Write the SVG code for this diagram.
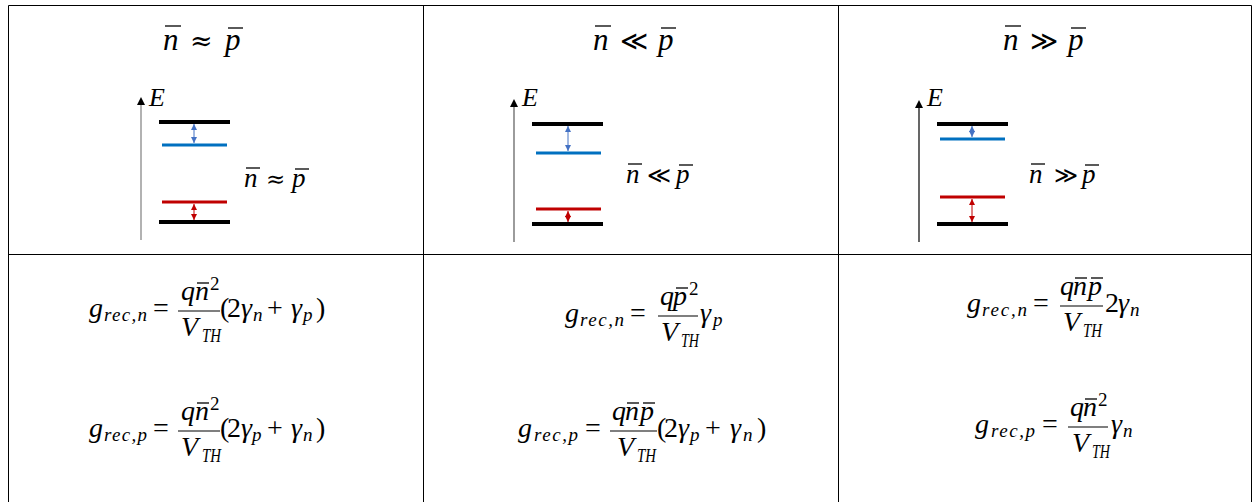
<svg xmlns="http://www.w3.org/2000/svg" width="1253" height="502" viewBox="0 0 1253 502">
<style>
.grid{stroke:#000;stroke-width:1;fill:none}
.m{font-family:"Liberation Serif","DejaVu Serif",serif;font-style:italic;font-size:28px;fill:#000}
.u{font-family:"Liberation Serif","DejaVu Serif",serif;font-style:normal;font-size:28px;fill:#000}
.r{font-family:"DejaVu Serif","Liberation Serif",serif;font-style:normal;fill:#000}
.s{font-size:19px}
.h{font-size:31px}
.l{font-size:27px}
.e{font-size:26px}
.bar{stroke:#000;stroke-width:1.3}
.fb{stroke:#000;stroke-width:1.2}
.kb{stroke:#000;stroke-width:4}
.bl{stroke:#0070C0;stroke-width:3}
.rd{stroke:#C00000;stroke-width:3}
.ba{stroke:#4472C4;stroke-width:1}
.ra{stroke:#C00000;stroke-width:1}
</style>
<defs>
<marker id="ah" markerUnits="userSpaceOnUse" markerWidth="8" markerHeight="9" viewBox="0 0 8 9" refX="0" refY="4.5" orient="auto"><path d="M0,0.5 L8,4.5 L0,8.5 z" fill="#000"/></marker>
<marker id="sb" markerUnits="userSpaceOnUse" markerWidth="6" markerHeight="6" viewBox="0 0 6 6" refX="6" refY="3" orient="auto-start-reverse"><path d="M0,0 L6,3 L0,6 z" fill="#4472C4"/></marker>
<marker id="sr" markerUnits="userSpaceOnUse" markerWidth="6" markerHeight="6" viewBox="0 0 6 6" refX="6" refY="3" orient="auto-start-reverse"><path d="M0,0 L6,3 L0,6 z" fill="#C00000"/></marker>
</defs>
<rect width="1253" height="502" fill="#fff"/>
<g id="table">
<path class="grid" d="M8.5,502 V5.5 H1251.5 V502 M423.5,5.5 V502 M838.5,5.5 V502 M8.5,254.5 H1251.5"/>
</g>

<g id="cell1-top">
<text class="m h" x="163" y="50">n</text><line class="bar" x1="165" y1="26" x2="181" y2="26"/>
<text class="r" x="190" y="50" font-size="27">≈</text>
<text class="m h" x="225" y="50">p</text><line class="bar" x1="228" y1="28" x2="243" y2="28"/>
<line x1="141" y1="240" x2="141" y2="105" stroke="#7f7f7f" stroke-width="1.2" marker-end="url(#ah)"/>
<text class="m e" x="149" y="106">E</text>
<line class="kb" x1="159" y1="122" x2="230" y2="122"/>
<line class="bl" x1="162" y1="145" x2="227" y2="145"/>
<line class="rd" x1="162" y1="202" x2="227" y2="202"/>
<line class="kb" x1="159" y1="222" x2="230" y2="222"/>
<line class="ba" x1="194" y1="124" x2="194" y2="143" marker-start="url(#sb)" marker-end="url(#sb)"/>
<line class="ra" x1="194" y1="204" x2="194" y2="220" marker-start="url(#sr)" marker-end="url(#sr)"/>
<text class="m l" x="244" y="187">n</text><line class="bar" x1="246" y1="168" x2="260" y2="168"/>
<text class="r" x="266" y="187" font-size="23">≈</text>
<text class="m l" x="292" y="187">p</text><line class="bar" x1="295" y1="169" x2="309" y2="169"/>
</g>

<g id="cell2-top">
<text class="m h" x="593" y="50">n</text><line class="bar" x1="595" y1="26" x2="611" y2="26"/>
<text class="r" x="620" y="50" font-size="27">≪</text>
<text class="m h" x="658" y="50">p</text><line class="bar" x1="661" y1="28" x2="676" y2="28"/>
<line x1="514" y1="242" x2="514" y2="107" stroke="#595959" stroke-width="1.2" marker-end="url(#ah)"/>
<text class="m e" x="522" y="106">E</text>
<line class="kb" x1="532" y1="124" x2="603" y2="124"/>
<line class="bl" x1="536" y1="153" x2="601" y2="153"/>
<line class="rd" x1="536" y1="209" x2="601" y2="209"/>
<line class="kb" x1="532" y1="224" x2="603" y2="224"/>
<line class="ba" x1="568" y1="126" x2="568" y2="151" marker-start="url(#sb)" marker-end="url(#sb)"/>
<line class="ra" x1="568" y1="211" x2="568" y2="222" marker-start="url(#sr)" marker-end="url(#sr)"/>
<text class="m l" x="626" y="183">n</text><line class="bar" x1="628" y1="164" x2="642" y2="164"/>
<text class="r" x="647" y="183" font-size="23">≪</text>
<text class="m l" x="676" y="183">p</text><line class="bar" x1="679" y1="165" x2="693" y2="165"/>
</g>

<g id="cell3-top">
<text class="m h" x="1003" y="50">n</text><line class="bar" x1="1005" y1="26" x2="1021" y2="26"/>
<text class="r" x="1030" y="50" font-size="27">≫</text>
<text class="m h" x="1068" y="50">p</text><line class="bar" x1="1071" y1="28" x2="1086" y2="28"/>
<line x1="919" y1="242" x2="919" y2="108" stroke="#000" stroke-width="1.2" marker-end="url(#ah)"/>
<text class="m e" x="927" y="106">E</text>
<line class="kb" x1="937" y1="124" x2="1008" y2="124"/>
<line class="bl" x1="940" y1="139" x2="1005" y2="139"/>
<line class="rd" x1="940" y1="197" x2="1005" y2="197"/>
<line class="kb" x1="937" y1="224" x2="1008" y2="224"/>
<line class="ba" x1="972" y1="126" x2="972" y2="137" marker-start="url(#sb)" marker-end="url(#sb)"/>
<line class="ra" x1="972" y1="199" x2="972" y2="222" marker-start="url(#sr)" marker-end="url(#sr)"/>
<text class="m l" x="1029" y="183">n</text><line class="bar" x1="1031" y1="164" x2="1045" y2="164"/>
<text class="r" x="1054" y="183" font-size="23">≫</text>
<text class="m l" x="1082" y="183">p</text><line class="bar" x1="1085" y1="165" x2="1099" y2="165"/>
</g>

<g id="cell1-eq1">
<text class="m" x="89" y="317">g</text>
<text class="m s" x="104" y="321" textLength="43">rec,n</text>
<text class="u" x="153" y="317">=</text>
<line class="fb" x1="178" y1="311" x2="220" y2="311"/>
<text class="m" x="181" y="300">q</text>
<text class="m" x="195" y="300">n</text><line class="bar" x1="197" y1="283" x2="209" y2="283"/>
<text class="u s" x="210" y="290">2</text>
<text class="m" x="181" y="336">V</text>
<text class="m s" x="202" y="342" textLength="19" lengthAdjust="spacingAndGlyphs">TH</text>
<text class="u" x="220" y="317">(</text>
<text class="u" x="227" y="317">2</text>
<text class="m" x="241" y="317">γ</text>
<text class="m s" x="253" y="321">n</text>
<text class="u" x="267" y="317">+</text>
<text class="m" x="291" y="317">γ</text>
<text class="m s" x="303" y="321">p</text>
<text class="u" x="316" y="317">)</text>
</g>

<g id="cell1-eq2">
<text class="m" x="89" y="437">g</text>
<text class="m s" x="104" y="441" textLength="43">rec,p</text>
<text class="u" x="153" y="437">=</text>
<line class="fb" x1="178" y1="431" x2="220" y2="431"/>
<text class="m" x="181" y="420">q</text>
<text class="m" x="195" y="420">n</text><line class="bar" x1="197" y1="403" x2="209" y2="403"/>
<text class="u s" x="210" y="410">2</text>
<text class="m" x="181" y="456">V</text>
<text class="m s" x="202" y="462" textLength="19" lengthAdjust="spacingAndGlyphs">TH</text>
<text class="u" x="220" y="437">(</text>
<text class="u" x="227" y="437">2</text>
<text class="m" x="241" y="437">γ</text>
<text class="m s" x="252" y="441">p</text>
<text class="u" x="267" y="437">+</text>
<text class="m" x="291" y="437">γ</text>
<text class="m s" x="303" y="441">n</text>
<text class="u" x="316" y="437">)</text>
</g>

<g id="cell2-eq1">
<text class="m" x="565" y="322">g</text>
<text class="m s" x="580" y="326" textLength="44">rec,n</text>
<text class="u" x="630" y="322">=</text>
<line class="fb" x1="658" y1="316" x2="698" y2="316"/>
<text class="m" x="660" y="305">q</text>
<text class="m" x="673" y="305">p</text><line class="bar" x1="676" y1="288" x2="688" y2="288"/>
<text class="u s" x="689" y="295">2</text>
<text class="m" x="661" y="341">V</text>
<text class="m s" x="681" y="347" textLength="18" lengthAdjust="spacingAndGlyphs">TH</text>
<text class="m" x="700" y="322">γ</text>
<text class="m s" x="713" y="326">p</text>
</g>

<g id="cell2-eq2">
<text class="m" x="518" y="437">g</text>
<text class="m s" x="534" y="441" textLength="44">rec,p</text>
<text class="u" x="585" y="437">=</text>
<line class="fb" x1="610" y1="431" x2="657" y2="431"/>
<text class="m" x="612" y="420">q</text>
<text class="m" x="625" y="420">n</text><line class="bar" x1="627" y1="403" x2="639" y2="403"/>
<text class="m" x="640" y="420">p</text><line class="bar" x1="643" y1="403" x2="655" y2="403"/>
<text class="m" x="617" y="456">V</text>
<text class="m s" x="637" y="462" textLength="19" lengthAdjust="spacingAndGlyphs">TH</text>
<text class="u" x="657" y="437">(</text>
<text class="u" x="664" y="437">2</text>
<text class="m" x="678" y="437">γ</text>
<text class="m s" x="690" y="441">p</text>
<text class="u" x="705" y="437">+</text>
<text class="m" x="730" y="437">γ</text>
<text class="m s" x="743" y="441">n</text>
<text class="u" x="757" y="437">)</text>
</g>

<g id="cell3-eq1">
<text class="m" x="967" y="312">g</text>
<text class="m s" x="982" y="316" textLength="45">rec,n</text>
<text class="u" x="1033" y="312">=</text>
<line class="fb" x1="1060" y1="306" x2="1103" y2="306"/>
<text class="m" x="1060" y="295">q</text>
<text class="m" x="1073" y="295">n</text><line class="bar" x1="1075" y1="278" x2="1087" y2="278"/>
<text class="m" x="1088" y="295">p</text><line class="bar" x1="1091" y1="278" x2="1103" y2="278"/>
<text class="m" x="1063" y="331">V</text>
<text class="m s" x="1083" y="337" textLength="19" lengthAdjust="spacingAndGlyphs">TH</text>
<text class="u" x="1105" y="312">2</text>
<text class="m" x="1118" y="312">γ</text>
<text class="m s" x="1130" y="316">n</text>
</g>

<g id="cell3-eq2">
<text class="m" x="975" y="433">g</text>
<text class="m s" x="991" y="437" textLength="44">rec,p</text>
<text class="u" x="1042" y="433">=</text>
<line class="fb" x1="1068" y1="427" x2="1108" y2="427"/>
<text class="m" x="1070" y="416">q</text>
<text class="m" x="1083" y="416">n</text><line class="bar" x1="1085" y1="399" x2="1097" y2="399"/>
<text class="u s" x="1098" y="406">2</text>
<text class="m" x="1072" y="452">V</text>
<text class="m s" x="1092" y="458" textLength="18" lengthAdjust="spacingAndGlyphs">TH</text>
<text class="m" x="1111" y="433">γ</text>
<text class="m s" x="1123" y="437">n</text>
</g>
</svg>
